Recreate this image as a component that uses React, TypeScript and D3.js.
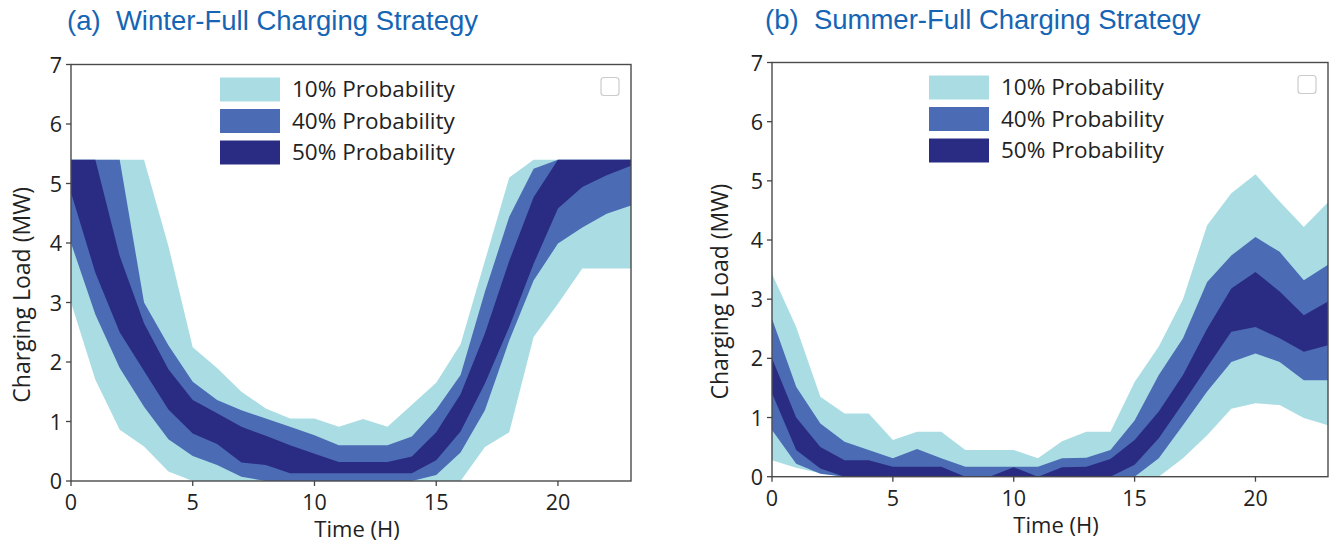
import React from 'react';
import * as d3 from 'd3';

// hour of day (x categories)
const hours = [0, 1, 2, 3, 4, 5, 6, 7, 8, 9, 10, 11, 12, 13, 14, 15, 16, 17, 18, 19, 20, 21, 22, 23];

// (a) winter: band edges in MW
const winterOuterHigh = [5.4, 5.4, 5.4, 5.4, 3.95, 2.25, 1.9, 1.5, 1.22, 1.05, 1.05, 0.91, 1.04, 0.91, 1.28, 1.65, 2.3, 3.7, 5.1, 5.4, 5.4, 5.4, 5.4, 5.4];
const winterMidHigh = [5.4, 5.4, 5.4, 3.0, 2.28, 1.67, 1.36, 1.19, 1.05, 0.91, 0.77, 0.6, 0.6, 0.6, 0.75, 1.2, 1.78, 3.18, 4.44, 5.25, 5.4, 5.4, 5.4, 5.4];
const winterInnerHigh = [5.4, 5.4, 3.78, 2.65, 1.88, 1.36, 1.14, 0.91, 0.76, 0.6, 0.46, 0.32, 0.32, 0.32, 0.41, 0.82, 1.46, 2.48, 3.7, 4.77, 5.4, 5.4, 5.4, 5.4];
const winterInnerLow = [4.85, 3.5, 2.5, 1.85, 1.2, 0.8, 0.62, 0.31, 0.27, 0.13, 0.13, 0.13, 0.13, 0.13, 0.13, 0.35, 0.83, 1.64, 2.59, 3.65, 4.58, 4.94, 5.14, 5.3];
const winterMidLow = [4.0, 2.8, 1.9, 1.25, 0.7, 0.42, 0.27, 0.07, 0, 0, 0, 0, 0, 0, 0, 0.1, 0.48, 1.19, 2.36, 3.37, 3.99, 4.26, 4.49, 4.63];
const winterOuterLow = [3.0, 1.7, 0.86, 0.58, 0.16, 0, 0, 0, 0, 0, 0, 0, 0, 0, 0, 0, 0, 0.57, 0.82, 2.42, 2.98, 3.57, 3.57, 3.57];

// (b) summer
const summerOuterHigh = [3.43, 2.53, 1.35, 1.07, 1.07, 0.62, 0.76, 0.76, 0.45, 0.45, 0.45, 0.31, 0.6, 0.76, 0.76, 1.6, 2.2, 3.0, 4.25, 4.79, 5.11, 4.65, 4.22, 4.64];
const summerMidHigh = [2.67, 1.52, 0.9, 0.59, 0.45, 0.31, 0.47, 0.31, 0.17, 0.17, 0.17, 0.17, 0.31, 0.32, 0.45, 0.95, 1.72, 2.34, 3.29, 3.74, 4.05, 3.8, 3.32, 3.58];
const summerInnerHigh = [2.0, 1.0, 0.5, 0.28, 0.28, 0.17, 0.17, 0.17, 0, 0, 0.16, 0, 0.16, 0.17, 0.3, 0.62, 1.1, 1.72, 2.5, 3.18, 3.46, 3.13, 2.73, 2.96];
const summerInnerLow = [1.41, 0.45, 0.14, 0, 0, 0, 0, 0, 0, 0, 0, 0, 0, 0, 0, 0.2, 0.65, 1.24, 1.85, 2.45, 2.53, 2.34, 2.11, 2.22];
const summerMidLow = [0.79, 0.22, 0.05, 0, 0, 0, 0, 0, 0, 0, 0, 0, 0, 0, 0, 0, 0.31, 0.87, 1.44, 1.94, 2.08, 1.94, 1.63, 1.63];
const summerOuterLow = [0.28, 0.15, 0.06, 0, 0, 0, 0, 0, 0, 0, 0, 0, 0, 0, 0, 0, 0, 0.31, 0.7, 1.15, 1.24, 1.21, 0.99, 0.87];

const legendLabels = ['10% Probability', '40% Probability', '50% Probability'];
const xTicks = [0, 5, 10, 15, 20];
const yTicks = [0, 1, 2, 3, 4, 5, 6, 7];

const colors = ['#a9dde3', '#4b6bb5', '#2a2c83'];
const titleColor = '#1565b4';
const font = "'Open Sans', sans-serif";

interface Layout {
  left: number; right: number; top: number; bottom: number;
  titleX: number; titleY: number; legendX: number; yLabelX: number;
}

interface PanelProps {
  title: string;
  bands: [number[], number[]][];
  layout: Layout;
}

const Panel: React.FC<PanelProps> = ({ title, bands, layout }) => {
  const { left, right, top, bottom } = layout;
  const x = d3.scaleLinear().domain([0, 23]).range([left, right]);
  const y = d3.scaleLinear().domain([0, 7]).range([bottom, top]);

  const makeArea = (low: number[], high: number[]) =>
    d3.area<number>()
      .x((_, i) => x(hours[i]))
      .y0((_, i) => y(low[i]))
      .y1(d => y(d))(high) || '';

  const legendTop = top + 13;

  return (
    <g>
      <text x={layout.titleX} y={layout.titleY} fill={titleColor} fontSize={27.5}
        style={{ whiteSpace: 'pre' }}
        fontFamily="'Liberation Sans', Arial, sans-serif">{title}</text>

      {bands.map(([low, high], i) => (
        <path key={i} d={makeArea(low, high)} fill={colors[i]} />
      ))}

      <rect x={left} y={top} width={right - left} height={bottom - top}
        fill="none" stroke="#4a4a4a" strokeWidth={1.4} />

      {/* y axis */}
      {yTicks.map(t => (
        <g key={'y' + t}>
          <line x1={left - 5} x2={left} y1={y(t)} y2={y(t)} stroke="#444" strokeWidth={1.3} />
          <text x={left - 9} y={y(t) + 8} textAnchor="end" fontSize={21.5} fontFamily={font} fill="#222">{t}</text>
        </g>
      ))}
      {/* x axis */}
      {xTicks.map(t => (
        <g key={'x' + t}>
          <line x1={x(t)} x2={x(t)} y1={bottom} y2={bottom + 5} stroke="#444" strokeWidth={1.3} />
          <text x={x(t)} y={bottom + 29} textAnchor="middle" fontSize={21.5} fontFamily={font} fill="#222">{t}</text>
        </g>
      ))}

      <text x={(left + right) / 2 + 6} y={bottom + 56} textAnchor="middle" fontSize={22}
        fontFamily={font} fill="#222">Time (H)</text>
      <text transform={`translate(${layout.yLabelX},${(top + bottom) / 2 + 22}) rotate(-90)`}
        textAnchor="middle" fontSize={23} fontFamily={font} fill="#222">Charging Load (MW)</text>

      {/* legend */}
      {legendLabels.map((lab, i) => (
        <g key={lab}>
          <rect x={layout.legendX} y={legendTop + i * 31.5} width={60} height={24} fill={colors[i]} />
          <text x={layout.legendX + 72} y={legendTop + i * 31.5 + 19.5} fontSize={22.5}
            fontFamily={font} fill="#222">{lab}</text>
        </g>
      ))}
      <rect x={right - 30} y={top + 13} width={18} height={18} rx={3} fill="#fff"
        stroke="#ccc" strokeWidth={1.2} />
    </g>
  );
};

const App: React.FC = () => {
  const winterBands: [number[], number[]][] = [
    [winterOuterLow, winterOuterHigh],
    [winterMidLow, winterMidHigh],
    [winterInnerLow, winterInnerHigh],
  ];
  const summerBands: [number[], number[]][] = [
    [summerOuterLow, summerOuterHigh],
    [summerMidLow, summerMidHigh],
    [summerInnerLow, summerInnerHigh],
  ];

  return (
    <svg width={1334} height={544} style={{ position: 'absolute', left: 0, top: 0, background: '#fff' }}>
      <rect width={1334} height={544} fill="#fff" />
      <Panel
        title="(a)  Winter-Full Charging Strategy"
        bands={winterBands}
        layout={{ left: 71, right: 631, top: 64.5, bottom: 481, titleX: 67, titleY: 30, legendX: 220, yLabelX: 30 }}
      />
      <Panel
        title="(b)  Summer-Full Charging Strategy"
        bands={summerBands}
        layout={{ left: 772, right: 1328, top: 62.5, bottom: 476.7, titleX: 765, titleY: 29, legendX: 929, yLabelX: 728 }}
      />
    </svg>
  );
};

export default App;
